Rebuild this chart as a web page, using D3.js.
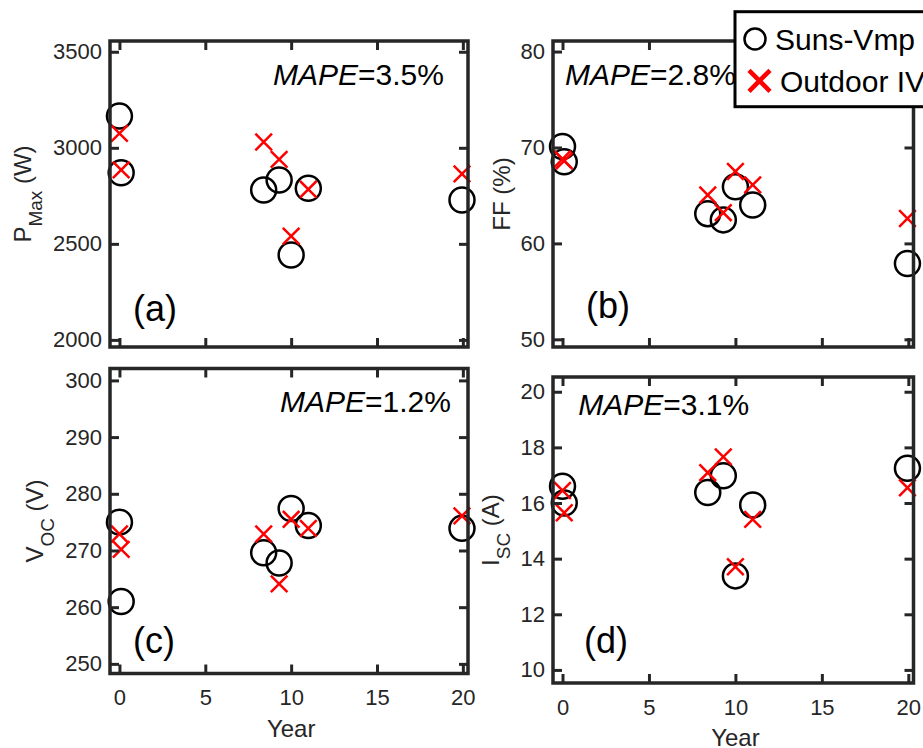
<!DOCTYPE html>
<html>
<head>
<meta charset="utf-8">
<script src="https://cdn.jsdelivr.net/npm/d3@7"></script>
<style>
  html, body { margin: 0; padding: 0; background: #fff; }
  svg { display: block; font-family: "Liberation Sans", Arial, Helvetica, sans-serif; }
</style>
</head>
<body>
<svg id="chart" width="923" height="748"></svg>
<script>
// Module age (years) of each measured system
const years = [0, 0.1, 8.4, 9.3, 10.0, 11.0, 19.95];

// Maximum power (W)
const pmaxSuns    = [3165, 2870, 2780, 2832, 2442, 2789, 2728];
const pmaxOutdoor = [3075, 2885, 3030, 2940, 2540, 2784, 2864];

// Fill factor (%)
const ffSuns    = [70.1, 68.5, 63.1, 62.45, 65.9, 64.0, 57.9];
const ffOutdoor = [68.8, 68.6, 65.05, 63.2, 67.5, 66.1, 62.6];

// Open-circuit voltage (V)
const vocSuns    = [275.0, 261.0, 269.6, 267.8, 277.4, 274.4, 273.9];
const vocOutdoor = [272.9, 270.2, 272.9, 264.1, 275.5, 273.9, 276.1];

// Short-circuit current (A)
const iscSuns    = [16.6, 16.0, 16.38, 16.98, 13.38, 15.93, 17.25];
const iscOutdoor = [16.45, 15.65, 17.09, 17.66, 13.71, 15.41, 16.55];

// Tick values
const xTicks    = [0, 5, 10, 15, 20];
const pmaxTicks = [2000, 2500, 3000, 3500];
const ffTicks   = [50, 60, 70, 80];
const vocTicks  = [250, 260, 270, 280, 290, 300];
const iscTicks  = [10, 12, 14, 16, 18, 20];

// Annotation text
const mapeValues   = ["3.5%", "2.8%", "1.2%", "3.1%"];
const panelTags    = ["(a)", "(b)", "(c)", "(d)"];
const legendLabels = ["Suns-Vmp", "Outdoor IV"];
const xTitle = "Year";

const svg = d3.select("#chart");
svg.append("rect").attr("width", 923).attr("height", 748).attr("fill", "#fff");

const AX = "#262626";
const FONT_TICK = 22;

const panels = [
  { box: {l: 110, r: 468, t: 41, b: 347}, yDomain: [1963, 3556], yTicks: pmaxTicks,
    suns: pmaxSuns, outdoor: pmaxOutdoor, ylab: ["P", "Max", " (W)"], ylabX: 30.5,
    mape: mapeValues[0], mapePos: [273, 85], tag: panelTags[0], tagPos: [133, 320.5], xLabels: false },
  { box: {l: 553, r: 913.5, t: 41, b: 347}, yDomain: [49.2, 81.1], yTicks: ffTicks,
    suns: ffSuns, outdoor: ffOutdoor, ylab: ["FF (%)", "", ""], ylabX: 510,
    mape: mapeValues[1], mapePos: [565, 85], tag: panelTags[1], tagPos: [586, 317.5], xLabels: false },
  { box: {l: 110, r: 468, t: 368.5, b: 673.5}, yDomain: [248.3, 302.1], yTicks: vocTicks,
    suns: vocSuns, outdoor: vocOutdoor, ylab: ["V", "OC", " (V)"], ylabX: 43,
    mape: mapeValues[2], mapePos: [280, 411.7], tag: panelTags[2], tagPos: [133, 652.5], xLabels: true },
  { box: {l: 553, r: 913.5, t: 377, b: 683}, yDomain: [9.53, 20.53], yTicks: iscTicks,
    suns: iscSuns, outdoor: iscOutdoor, ylab: ["I", "SC", " (A)"], ylabX: 498.7,
    mape: mapeValues[3], mapePos: [578.3, 415], tag: panelTags[3], tagPos: [584, 652.5], xLabels: true }
];

function crossPath(cx, cy, s) {
  return `M${cx - s},${cy - s}L${cx + s},${cy + s}M${cx - s},${cy + s}L${cx + s},${cy - s}`;
}

panels.forEach(p => {
  const {l, r, t, b} = p.box;
  const x = d3.scaleLinear().domain([-0.55, 20.3]).range([l, r]);
  const y = d3.scaleLinear().domain(p.yDomain).range([b, t]);
  const g = svg.append("g");

  // markers
  const mk = g.append("g");
  mk.selectAll("circle").data(years.map((yr, i) => [yr, p.suns[i]])).join("circle")
    .attr("cx", d => x(d[0])).attr("cy", d => y(d[1])).attr("r", 12.5)
    .attr("fill", "none").attr("stroke", "#000").attr("stroke-width", 2.5);
  mk.selectAll("path").data(years.map((yr, i) => [yr, p.outdoor[i]])).join("path")
    .attr("d", d => crossPath(x(d[0]), y(d[1]), 8.3))
    .attr("fill", "none").attr("stroke", "#ff0000").attr("stroke-width", 2.5);

  // axes with inward ticks on all four sides
  const styleAxis = sel => {
    sel.select(".domain").remove();
    sel.selectAll(".tick line").attr("stroke", AX).attr("stroke-width", 3);
    sel.selectAll(".tick text").attr("fill", AX).style("font-size", FONT_TICK + "px")
      .style("font-family", '"Liberation Sans", Arial, sans-serif');
  };
  g.append("g").attr("transform", `translate(0,${b})`)
    .call(d3.axisBottom(x).tickValues(xTicks).tickSizeInner(-9).tickSizeOuter(0).tickPadding(16)
      .tickFormat(p.xLabels ? d3.format("d") : () => ""))
    .call(styleAxis);
  g.append("g").attr("transform", `translate(0,${t})`)
    .call(d3.axisTop(x).tickValues(xTicks).tickSizeInner(-9).tickSizeOuter(0).tickFormat(() => ""))
    .call(styleAxis);
  g.append("g").attr("transform", `translate(${l},0)`)
    .call(d3.axisLeft(y).tickValues(p.yTicks).tickSizeInner(-9).tickSizeOuter(0).tickPadding(8)
      .tickFormat(d3.format("d")))
    .call(styleAxis);
  g.append("g").attr("transform", `translate(${r},0)`)
    .call(d3.axisRight(y).tickValues(p.yTicks).tickSizeInner(-9).tickSizeOuter(0).tickFormat(() => ""))
    .call(styleAxis);

  // frame
  g.append("rect").attr("x", l).attr("y", t).attr("width", r - l).attr("height", b - t)
    .attr("fill", "none").attr("stroke", AX).attr("stroke-width", 3.5);

  // y-axis title (rotated, with optional subscript)
  const cy = (t + b) / 2;
  const yt = g.append("text")
    .attr("transform", `translate(${p.ylabX},${cy}) rotate(-90)`)
    .attr("text-anchor", "middle").attr("fill", AX).style("font-size", "24px");
  yt.append("tspan").text(p.ylab[0]);
  if (p.ylab[1]) {
    yt.append("tspan").attr("dy", 11).style("font-size", "19px").text(p.ylab[1]);
    yt.append("tspan").attr("dy", -11).text(p.ylab[2]);
  }

  // x-axis title
  if (p.xLabels) {
    g.append("text").attr("x", (x(0) + x(20)) / 2).attr("y", b + 63)
      .attr("text-anchor", "middle").attr("fill", AX).style("font-size", "24px").text(xTitle);
  }

  // MAPE annotation
  const mt = g.append("text").attr("x", p.mapePos[0]).attr("y", p.mapePos[1])
    .attr("fill", "#000").style("font-size", "30px");
  mt.append("tspan").style("font-style", "italic").text("MAPE");
  mt.append("tspan").text("=" + p.mape);

  // panel tag
  g.append("text").attr("x", p.tagPos[0]).attr("y", p.tagPos[1])
    .attr("fill", "#000").style("font-size", "36px").text(p.tag);
});

// legend
const lg = svg.append("g");
lg.append("rect").attr("x", 735).attr("y", 11.7).attr("width", 220).attr("height", 95)
  .attr("fill", "#fff").attr("stroke", "#000").attr("stroke-width", 3);
lg.append("circle").attr("cx", 755).attr("cy", 39).attr("r", 10.5)
  .attr("fill", "none").attr("stroke", "#000").attr("stroke-width", 2.5);
lg.append("path").attr("d", crossPath(759.5, 80.8, 10.5))
  .attr("fill", "none").attr("stroke", "#ff0000").attr("stroke-width", 4.5);
lg.append("text").attr("x", 775).attr("y", 50).attr("fill", "#000").style("font-size", "30px").text(legendLabels[0]);
lg.append("text").attr("x", 780).attr("y", 91.7).attr("fill", "#000").style("font-size", "30px").text(legendLabels[1]);
</script>
</body>
</html>
